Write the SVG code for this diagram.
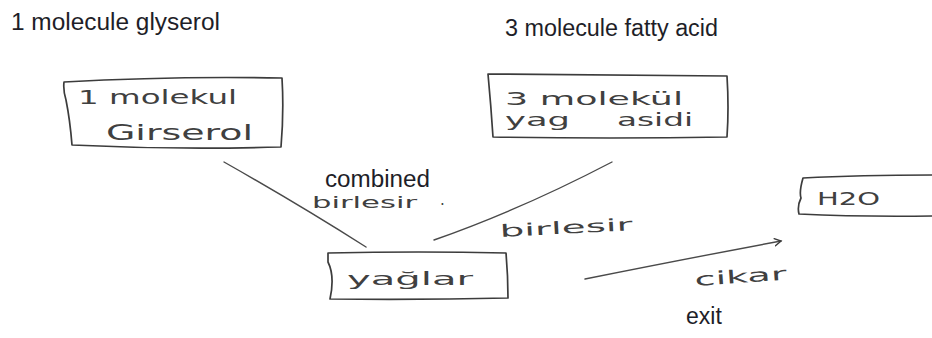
<svg xmlns="http://www.w3.org/2000/svg" width="932" height="338" viewBox="0 0 932 338">
  <style>
    .typed { font-family: "Liberation Sans", Arial, sans-serif; font-size: 23px; fill: #1e1e28; }
    .hand { font-family: "DejaVu Sans", "Liberation Sans", sans-serif; fill: #404040; }
    .box { fill: none; stroke: #3c3c3c; stroke-width: 1.7; stroke-linejoin: round; stroke-linecap: round; }
    .wire { fill: none; stroke: #4a4a4a; stroke-width: 1.4; stroke-linecap: round; }
  </style>
  <defs>
    <marker id="head" viewBox="0 0 10 10" refX="8" refY="5" markerWidth="9" markerHeight="9" orient="auto" markerUnits="userSpaceOnUse">
      <path d="M1,1 L8,5 L1,9" fill="none" stroke="#3c3c3c" stroke-width="1.6" stroke-linecap="round"/>
    </marker>
  </defs>
  <rect width="932" height="338" fill="#ffffff"/>

  <!-- printed captions -->
  <text class="typed" x="11" y="30" textLength="209" lengthAdjust="spacingAndGlyphs">1 molecule glyserol</text>
  <text class="typed" x="505" y="36" textLength="213" lengthAdjust="spacingAndGlyphs">3 molecule fatty acid</text>
  <text class="typed" x="325" y="187" textLength="105" lengthAdjust="spacingAndGlyphs">combined</text>
  <text class="typed" x="686" y="324">exit</text>

  <!-- connectors -->
  <g id="connectors">
    <path class="wire" d="M224,162 Q300,205 366,247"/>
    <path class="wire" d="M612,162 Q520,210 434,240"/>
    <path class="wire" d="M585,279 Q690,258 781,241" marker-end="url(#head)"/>
  </g>

  <!-- handwritten connector labels -->
  <text class="hand" x="312" y="208" font-size="15" textLength="105" lengthAdjust="spacingAndGlyphs">birlesir</text>
  <text class="hand" x="440" y="205" font-size="15">.</text>
  <text class="hand" x="500" y="237" font-size="17" textLength="133" lengthAdjust="spacingAndGlyphs" transform="rotate(-3 500 237)">birlesir</text>
  <text class="hand" x="695" y="286" font-size="18" textLength="92" lengthAdjust="spacingAndGlyphs" transform="rotate(-4 695 286)">cikar</text>

  <g id="glycerol">
    <path class="box" d="M64,82 Q170,76 282,78 Q284,112 281,147 Q175,150 72,145 Q70,120 66,100 Q63,90 64,82 Z"/>
    <text class="hand" x="78" y="104" font-size="19" textLength="159" lengthAdjust="spacingAndGlyphs">1 molekul</text>
    <text class="hand" x="106" y="140" font-size="22" textLength="147" lengthAdjust="spacingAndGlyphs">Girserol</text>
  </g>

  <g id="fatty-acid">
    <path class="box" d="M488,74 Q600,75 727,76 Q729,108 727,137 Q610,139 493,137 Q491,106 488,74 Z"/>
    <text class="hand" x="505" y="105" font-size="18" textLength="178" lengthAdjust="spacingAndGlyphs">3 molekül</text>
    <text class="hand" y="126" font-size="17"><tspan x="505" textLength="65" lengthAdjust="spacingAndGlyphs">yag</tspan><tspan x="617" textLength="76" lengthAdjust="spacingAndGlyphs">asidi</tspan></text>
  </g>

  <g id="fats">
    <path class="box" d="M328,253 Q420,251 506,253 Q508,276 508,298 Q420,300 330,299 Q335,276 328,262 Z"/>
    <text class="hand" x="347" y="285" font-size="18" textLength="126" lengthAdjust="spacingAndGlyphs">yağlar</text>
  </g>

  <g id="water">
    <path class="box" d="M932,175 Q860,175 803,178 Q799,192 801,198 Q797,206 799,214 Q860,217 932,216"/>
    <text class="hand" x="817" y="205" font-size="17" textLength="63" lengthAdjust="spacingAndGlyphs">H2O</text>
  </g>
</svg>
